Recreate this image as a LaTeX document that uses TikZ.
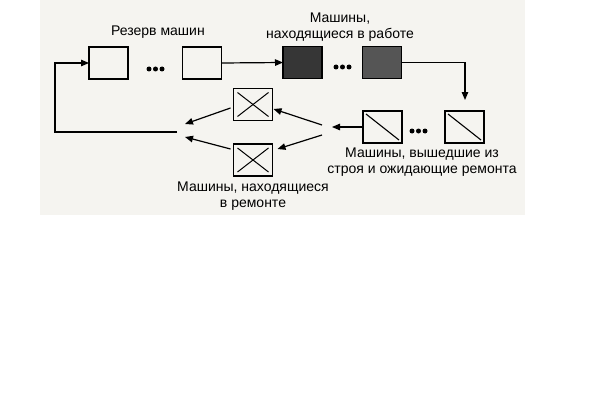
\documentclass[tikz,border=0pt]{standalone}
\usepackage{fontspec}
\setmainfont{Liberation Sans}
\usetikzlibrary{arrows.meta}
\definecolor{bgtint}{HTML}{F5F4F0}
\definecolor{darkA}{HTML}{363636}
\definecolor{darkB}{HTML}{555555}
\begin{document}
\begin{tikzpicture}[x=1pt,y=-1pt,
  mbox/.style={draw, line width=1.2pt, minimum width=39pt, minimum height=32pt, inner sep=0pt, outer sep=0pt},
  workbox/.style={mbox, fill=darkA},
  brokenbox/.style={mbox, path picture={\draw[line width=1.1pt] ([shift={(3pt,-3pt)}]path picture bounding box.north west) -- ([shift={(-3pt,3pt)}]path picture bounding box.south east);}},
  repairbox/.style={mbox, path picture={\draw[line width=1pt] ([shift={(4pt,-4pt)}]path picture bounding box.north west) -- ([shift={(-4pt,4pt)}]path picture bounding box.south east); \draw[line width=1pt] ([shift={(-4pt,-4pt)}]path picture bounding box.north east) -- ([shift={(4pt,4pt)}]path picture bounding box.south west);}},
  conn/.style={line width=1.2pt, -{Triangle[length=8pt,width=6.5pt]}},
  lbl/.style={font=\fontsize{14}{16}\selectfont, align=center, inner sep=0pt},
  dot/.style={circle, fill=black, inner sep=0pt, minimum size=5pt}
]
\useasboundingbox (0,0) rectangle (605,404);
\fill[bgtint] (40,0) rectangle (525,215);

% reserve
\node[mbox] (r1) at (108.5,63) {};
\node[mbox] (r2) at (202,63) {};
\node[dot] (d1a) at (149,69) {};
\node[dot] (d1b) at (155.5,69) {};
\node[dot] (d1c) at (162,69) {};
\node[lbl] (lr) at (158,32) {Резерв машин};

% working
\node[workbox] (w1) at (302.5,62.5) {};
\node[workbox, fill=darkB] (w2) at (382,62.5) {};
\node[dot] (d2a) at (336,67) {};
\node[dot] (d2b) at (342.5,67) {};
\node[dot] (d2c) at (349,67) {};
\node[lbl] (lw) at (340,27) {Машины,\\находящиеся в работе};

% broken
\node[brokenbox] (f1) at (382.5,127) {};
\node[brokenbox] (f2) at (464.5,127) {};
\node[dot] (d3a) at (412,131) {};
\node[dot] (d3b) at (418.5,131) {};
\node[dot] (d3c) at (425,131) {};
\node[lbl] (lf) at (422,162) {Машины, вышедшие из\\строя и ожидающие ремонта};

% repair
\node[repairbox] (p1) at (253,104.5) {};
\node[repairbox] (p2) at (253,160) {};
\node[lbl] (lp) at (253,196) {Машины, находящиеся\\в ремонте};

% connectors
\coordinate (c1) at (465,100);
\coordinate (c2) at (332,127);
\coordinate (s1) at (322,125);
\coordinate (s2) at (322,135);
\coordinate (t1) at (185,124);
\coordinate (t2) at (185,137);
\coordinate (fb) at (177,132);
\coordinate (fc) at (55,132);

\draw[conn] (r2.east) -- (w1.west);
\draw[conn] (w2.east) -| (c1);
\draw[conn] (f1.west) -- (c2);
\draw[conn] (s1) -- ([shift={(1,4.5)}]p1.east);
\draw[conn] (s2) -- ([shift={(5,-11)}]p2.east);
\draw[conn] ([shift={(-3,3.5)}]p1.west) -- (t1);
\draw[conn] ([shift={(-3,-11)}]p2.west) -- (t2);
\draw[conn] (fb) -- (fc) |- (r1.west);
\end{tikzpicture}
\end{document}
